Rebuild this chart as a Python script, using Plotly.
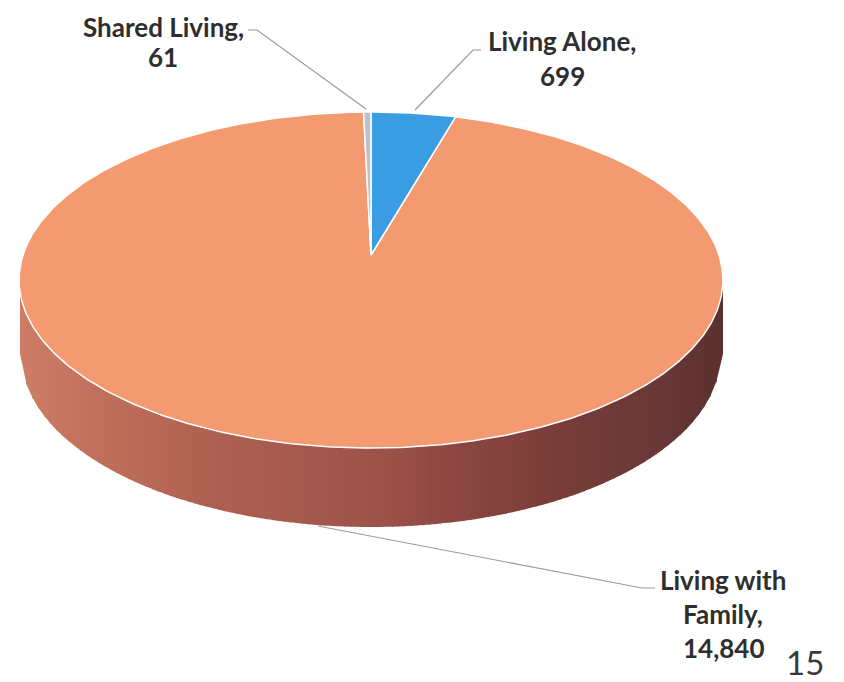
import numpy as np
import plotly.graph_objects as go

# Data
categories = ["Living Alone", "Living with Family", "Shared Living"]
values = [699, 14840, 61]
label_lines = [["Living Alone,"], ["Living with", "Family,"], ["Shared Living,"]]
page_number = "15"

# Style / geometry of the tilted pie (pixel-like axes)
APEX = (371, 255)
RX, K, B = 348.0, 0.1488, 164.3
TOP_C, TOP_R = (371, 280), (352, 168)
BOT_C, BOT_R = (371, 354), (350, 173)
slice_colors = ["#3a9ce2", "#f39a70", "#bdbdd6"]
label_y = [[41, 76], [580, 614, 648], [27, 57]]
label_x = [562, 723, 163]
leaders = [
    ([481, 473, 415], [50, 50, 110]),
    ([318, 642, 655], [526, 588, 588]),
    ([248, 257, 366], [30, 30, 109]),
]
side_x = [20, 100, 200, 300, 370, 450, 540, 620, 680, 722]
side_rgb = [(206, 125, 103), (192, 112, 92), (176, 98, 82), (165, 90, 78), (158, 84, 74),
            (142, 72, 66), (125, 62, 58), (110, 58, 56), (102, 54, 54), (92, 48, 48)]


def rim(theta):
    u, v = np.sin(theta), np.cos(theta)
    den = 1 + K * v
    return APEX[0] + RX * u / den, APEX[1] - B * v / den


fig = go.Figure()

# side wall, strip by strip
xs = np.arange(20, 722, 6.0)
for x0 in xs:
    x1 = x0 + 7
    xc = np.array([x0, x1])
    t = np.sqrt(np.clip(1 - ((xc - TOP_C[0]) / TOP_R[0]) ** 2, 0, 1))
    b = np.sqrt(np.clip(1 - ((xc - BOT_C[0]) / BOT_R[0]) ** 2, 0, 1))
    ytop = TOP_C[1] + TOP_R[1] * t - 3
    ybot = BOT_C[1] + BOT_R[1] * b
    rgb = [np.interp(x0 + 3, side_x, [c[i] for c in side_rgb]) for i in range(3)]
    color = "rgb(%d,%d,%d)" % tuple(rgb)
    fig.add_trace(go.Scatter(
        x=[x0, x1, x1, x0, x0], y=[ytop[0], ytop[1], ybot[1], ybot[0], ytop[0]],
        mode="lines", fill="toself", fillcolor=color, line=dict(width=0),
        hoverinfo="skip", showlegend=False))

# top face, one polygon per category, angles from the values
total = sum(values)
edges = np.cumsum([0] + values) / total * 2 * np.pi
draw_order = [1, 0, 2]
for i in draw_order:
    th = np.linspace(edges[i], edges[i + 1], max(4, int((edges[i + 1] - edges[i]) * 90)))
    rx, ry = rim(th)
    fig.add_trace(go.Scatter(
        x=np.r_[APEX[0], rx, APEX[0]], y=np.r_[APEX[1], ry, APEX[1]],
        mode="lines", fill="toself", fillcolor=slice_colors[i],
        line=dict(color="white", width=1.5), name=categories[i],
        text=f"{categories[i]}: {values[i]:,}", hoverinfo="text", showlegend=False))

# leader lines
for lx, ly in leaders:
    fig.add_trace(go.Scatter(x=lx, y=ly, mode="lines", line=dict(color="#9a9aa2", width=1.2),
                             hoverinfo="skip", showlegend=False))

# labels
for i in range(3):
    lines = label_lines[i] + [f"{values[i]:,}"]
    for txt, y in zip(lines, label_y[i]):
        fig.add_annotation(x=label_x[i], y=y, text=f"<b>{txt}</b>", showarrow=False,
                           xanchor="center", yanchor="middle",
                           font=dict(family="Lato", size=26, color="#2e2e2e"))
fig.add_annotation(x=805, y=662, text=page_number, showarrow=False, xanchor="center", yanchor="middle",
                   font=dict(family="Lato", size=33, color="#3a3a3a"))

fig.update_layout(
    width=844, height=682, margin=dict(l=0, r=0, t=0, b=0),
    paper_bgcolor="white", plot_bgcolor="white", showlegend=False,
    xaxis=dict(range=[0, 844], visible=False, fixedrange=True),
    yaxis=dict(range=[682, 0], visible=False, fixedrange=True),
)
fig.write_html("out.html", config={"displayModeBar": False},
               post_script="document.body.style.margin='0';document.documentElement.style.overflow='hidden';")
